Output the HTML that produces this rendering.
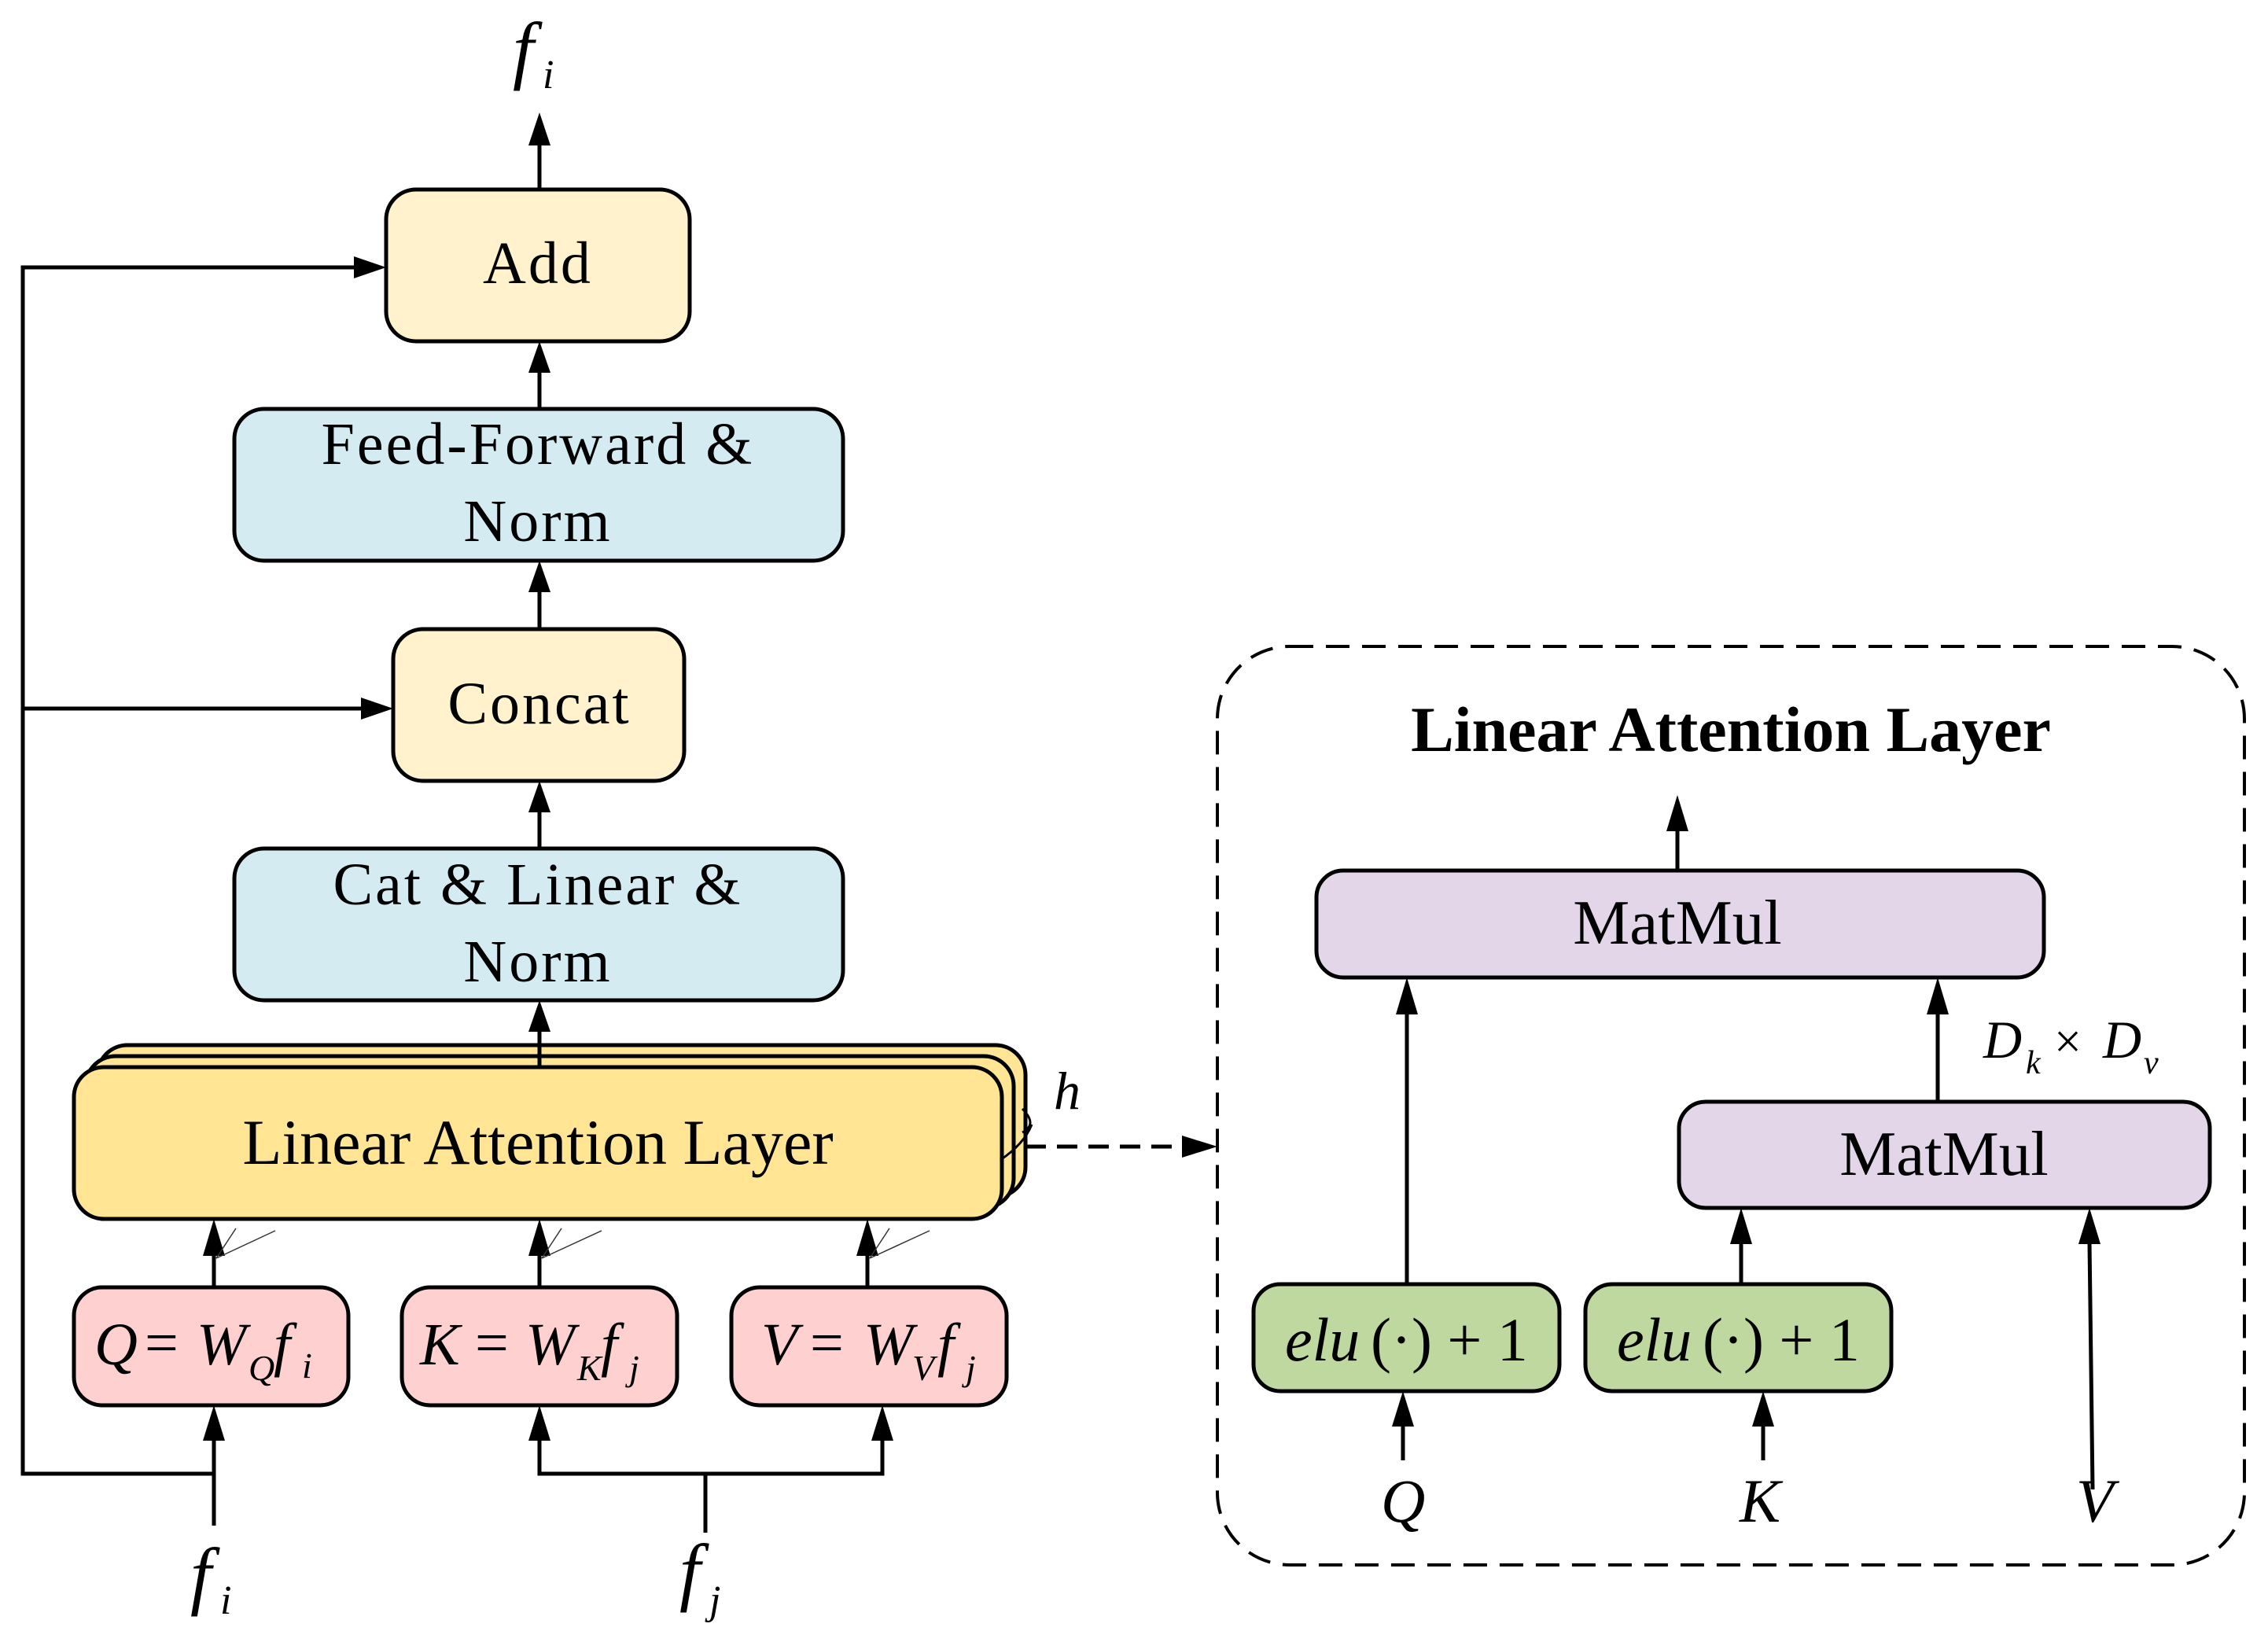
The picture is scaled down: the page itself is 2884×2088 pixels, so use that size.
<!DOCTYPE html>
<html><head><meta charset="utf-8"><style>
html,body{margin:0;padding:0;background:#fff;}
svg{display:block;}
text{font-family:"Liberation Serif",serif;}
</style></head><body>
<svg width="2884" height="2088" viewBox="0 0 2884 2088" xmlns="http://www.w3.org/2000/svg">
<g stroke="#000" stroke-width="5" fill="none">
<line x1="686" y1="241" x2="686" y2="185"/>
<line x1="686" y1="520" x2="686" y2="470"/>
<line x1="686" y1="800" x2="686" y2="750"/>
<line x1="686" y1="1079" x2="686" y2="1030"/>
<line x1="686" y1="1330" x2="686" y2="1310"/>
<polyline points="272,1874 29,1874 29,340 450,340"/>
<line x1="29" y1="901" x2="460" y2="901"/>
<line x1="272" y1="1940" x2="272" y2="1830"/>
<polyline points="686,1830 686,1874 1122,1874 1122,1830"/>
<line x1="897" y1="1949" x2="897" y2="1874"/>
<line x1="272" y1="1637" x2="272" y2="1595"/>
<line x1="686" y1="1637" x2="686" y2="1595"/>
<line x1="1103" y1="1637" x2="1103" y2="1595"/>
<line x1="2133" y1="1107" x2="2133" y2="1055"/>
<line x1="1789" y1="1633" x2="1789" y2="1290"/>
<line x1="2464" y1="1401" x2="2464" y2="1290"/>
<line x1="2214" y1="1633" x2="2214" y2="1580"/>
<line x1="1784" y1="1857" x2="1784" y2="1812"/>
<line x1="2242" y1="1857" x2="2242" y2="1812"/>
<line x1="2661" y1="1894" x2="2657" y2="1580"/>
<line x1="1304" y1="1458" x2="1505" y2="1458" stroke-dasharray="26,14"/>
<rect x="1548" y="822" width="1306" height="1168" rx="92" stroke-dasharray="30,16" stroke-width="4"/>
</g>
<g fill="#000">
<polygon points="686,143 672,185 700,185"/>
<polygon points="686,434 672,474 700,474"/>
<polygon points="686,713 672,753 700,753"/>
<polygon points="686,993 672,1033 700,1033"/>
<polygon points="686,1272 672,1312 700,1312"/>
<polygon points="491,340 450,326 450,354"/>
<polygon points="500,901 459,887 459,915"/>
<polygon points="272,1550 258,1597 286,1597"/>
<polygon points="686,1550 672,1597 700,1597"/>
<polygon points="1103,1550 1089,1597 1117,1597"/>
<polygon points="272,1787 258,1832 286,1832"/>
<polygon points="686,1787 672,1832 700,1832"/>
<polygon points="1122,1787 1108,1832 1136,1832"/>
<polygon points="1548,1458 1503,1444 1503,1472"/>
<polygon points="2133,1011 2119,1057 2147,1057"/>
<polygon points="1789,1243 1775,1290 1803,1290"/>
<polygon points="2464,1243 2450,1290 2478,1290"/>
<polygon points="2214,1536 2200,1582 2228,1582"/>
<polygon points="1784,1769 1770,1814 1798,1814"/>
<polygon points="2242,1769 2228,1814 2256,1814"/>
<polygon points="2657,1536 2643,1582 2671,1582"/>
</g>
<g stroke="#333" stroke-width="1.5">
<line x1="275" y1="1600" x2="350" y2="1565"/><line x1="275" y1="1600" x2="300" y2="1562"/>
<line x1="689" y1="1600" x2="765" y2="1565"/><line x1="689" y1="1600" x2="714" y2="1562"/>
<line x1="1106" y1="1600" x2="1182" y2="1565"/><line x1="1106" y1="1600" x2="1131" y2="1562"/>
</g>
<g stroke="#000" stroke-width="5">
<rect x="491" y="241" width="386" height="193" rx="38" fill="#fff2cc"/>
<rect x="298" y="520" width="774" height="193" rx="38" fill="#d4ecf1"/>
<rect x="500" y="800" width="370" height="193" rx="38" fill="#fff2cc"/>
<rect x="298" y="1079" width="774" height="193" rx="38" fill="#d4ecf1"/>
<rect x="124" y="1329" width="1180" height="193" rx="38" fill="#ffe594"/>
<rect x="109" y="1343" width="1180" height="193" rx="38" fill="#ffe594"/>
<rect x="94" y="1357" width="1180" height="193" rx="38" fill="#ffe594"/>
<rect x="94" y="1637" width="349" height="150" rx="36" fill="#ffd0d0"/>
<rect x="511" y="1637" width="350" height="150" rx="36" fill="#ffd0d0"/>
<rect x="930" y="1637" width="350" height="150" rx="36" fill="#ffd0d0"/>
<rect x="1674" y="1107" width="925" height="136" rx="34" fill="#e2d6e8"/>
<rect x="2135" y="1401" width="675" height="135" rx="34" fill="#e2d6e8"/>
<rect x="1594" y="1633" width="389" height="136" rx="34" fill="#bfd89f"/>
<rect x="2016" y="1633" width="389" height="136" rx="34" fill="#bfd89f"/>
</g>
<line x1="686" y1="1330" x2="686" y2="1357" stroke="#000" stroke-width="5"/>
<path d="M1300,1410 q20,20 0,30 M1272,1475 q30,-20 40,-45" stroke="#000" stroke-width="3" fill="none"/>
<g font-size="76" text-anchor="middle" fill="#000">
<text x="684" y="360" letter-spacing="3">Add</text>
<text x="684" y="590" letter-spacing="3">Feed-Forward &amp;</text>
<text x="684" y="688" letter-spacing="3">Norm</text>
<text x="686" y="920" letter-spacing="3">Concat</text>
<text x="684" y="1150" letter-spacing="3">Cat &amp; Linear &amp;</text>
<text x="684" y="1248" letter-spacing="3">Norm</text>
<text x="684" y="1480" font-size="82">Linear Attention Layer</text>
<text x="2133" y="1200" font-size="81">MatMul</text>
<text x="2472" y="1494" font-size="81">MatMul</text>
<text x="2201" y="955" font-weight="bold" font-size="82">Linear Attention Layer</text>
</g>
<g font-style="italic" fill="#000">
<text x="652" y="95" font-size="96">f</text><text x="690" y="112" font-size="52">i</text>
<text x="242" y="2035" font-size="96">f</text><text x="280" y="2052" font-size="52">i</text>
<text x="864" y="2030" font-size="96">f</text><text x="902" y="2052" font-size="52">j</text>
<text x="1340" y="1410" font-size="68">h</text>
<text x="120" y="1735" font-size="76">Q</text><text x="184" y="1733" font-size="76" font-style="normal">=</text><text x="250" y="1735" font-size="76">W</text><text x="316" y="1755" font-size="46">Q</text><text x="348" y="1735" font-size="76">f</text><text x="384" y="1752" font-size="46">i</text>
<text x="534" y="1735" font-size="76">K</text><text x="604" y="1733" font-size="76" font-style="normal">=</text><text x="668" y="1735" font-size="76">W</text><text x="734" y="1755" font-size="46">K</text><text x="764" y="1735" font-size="76">f</text><text x="800" y="1755" font-size="46">j</text>
<text x="968" y="1735" font-size="76">V</text><text x="1030" y="1733" font-size="76" font-style="normal">=</text><text x="1098" y="1735" font-size="76">W</text><text x="1160" y="1755" font-size="46">V</text><text x="1192" y="1735" font-size="76">f</text><text x="1228" y="1755" font-size="46">j</text>
<text x="1634" y="1730" font-size="78">elu</text><text x="1743" y="1730" font-size="78" font-style="normal">(·) + 1</text>
<text x="2056" y="1730" font-size="78">elu</text><text x="2165" y="1730" font-size="78" font-style="normal">(·) + 1</text>
<text x="1756" y="1935" font-size="78">Q</text>
<text x="2212" y="1935" font-size="78">K</text>
<text x="2640" y="1935" font-size="78">V</text>
<text x="2522" y="1345" font-size="68">D</text><text x="2576" y="1365" font-size="42">k</text><text x="2612" y="1345" font-size="62" font-style="normal">×</text><text x="2674" y="1345" font-size="68">D</text><text x="2726" y="1365" font-size="42">v</text>
</g>
</svg>
</body></html>
